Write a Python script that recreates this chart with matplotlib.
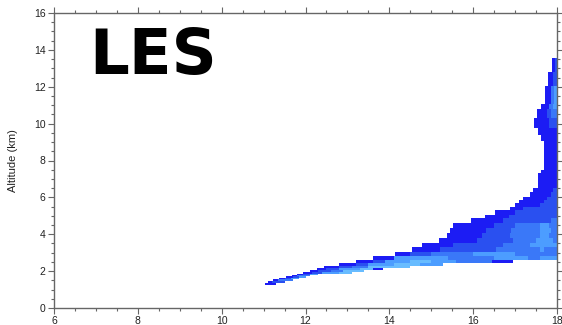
import numpy as np
import matplotlib
matplotlib.use("Agg")
import matplotlib.pyplot as plt

# frequency classes, darkest (edge) to lightest (core)
level_colors = ["#1c1cf4", "#2a50f0", "#3a78f8", "#4c9dff", "#68bcff"]

# altitude rows (km), bottom and top of each model level
row_bottom = [1.25, 1.36, 1.46, 1.57, 1.63, 1.74, 1.79, 1.84, 1.95, 2.06, 2.17, 2.28,
              2.44, 2.60, 2.82, 3.04, 3.31, 3.52, 3.80, 4.07, 4.34, 4.61, 4.88, 5.04,
              5.31, 5.48, 5.69, 5.86, 6.02, 6.29, 6.51, 7.32, 7.48, 9.06, 9.38, 9.76,
              10.30, 10.79, 11.06, 12.04, 12.80]
row_top = [1.36, 1.46, 1.57, 1.63, 1.74, 1.79, 1.84, 1.95, 2.06, 2.17, 2.28, 2.44,
           2.60, 2.82, 3.04, 3.31, 3.52, 3.80, 4.07, 4.34, 4.61, 4.88, 5.04, 5.31,
           5.48, 5.69, 5.86, 6.02, 6.29, 6.51, 7.32, 7.48, 9.06, 9.38, 9.76, 10.30,
           10.79, 11.06, 12.04, 12.80, 13.56]

# class boundaries along x for each row, and the class between each pair
row_edges = [
    [11.03, 11.30],
    [11.10, 11.20, 11.50],
    [11.22, 11.35, 11.70],
    [11.37, 11.50, 11.65, 11.85],
    [11.53, 11.70, 11.85, 12.00],
    [11.68, 11.80, 12.10],
    [11.80, 11.94, 12.10, 12.30],
    [11.94, 12.15, 12.40, 12.80, 13.10],
    [12.10, 12.30, 12.60, 12.90, 13.40],
    [12.27, 12.50, 12.80, 13.30, 13.60, 13.85],
    [12.44, 12.80, 13.10, 13.50, 14.50],
    [12.80, 13.20, 13.50, 14.10, 14.73, 15.28],
    [13.20, 13.60, 13.90, 14.50, 15.00, 15.60, 16.45, 16.96],
    [13.61, 14.10, 15.40, 16.50, 17.30, 17.60, 18.00],
    [14.13, 14.50, 15.00, 16.00, 17.00, 18.00],
    [14.54, 15.20, 16.55, 17.60, 17.70, 18.00],
    [14.78, 15.52, 16.70, 17.35, 18.00],
    [15.18, 16.10, 16.95, 17.50, 17.90, 18.00],
    [15.38, 16.20, 16.88, 17.60, 17.80, 18.00],
    [15.45, 16.30, 16.90, 17.60, 17.85, 18.00],
    [15.52, 16.50, 17.00, 17.60, 17.80, 18.00],
    [15.95, 16.70, 17.85, 18.00],
    [16.28, 16.85, 18.00],
    [16.52, 17.00, 18.00],
    [16.88, 17.20, 18.00],
    [17.00, 17.60, 18.00],
    [17.09, 17.70, 18.00],
    [17.19, 17.75, 18.00],
    [17.36, 17.85, 18.00],
    [17.43, 17.90, 18.00],
    [17.55, 18.00],
    [17.62, 18.00],
    [17.69, 18.00],
    [17.62, 18.00],
    [17.55, 18.00],
    [17.46, 17.80, 18.00],
    [17.53, 17.75, 17.85, 18.00],
    [17.62, 17.80, 17.90, 18.00],
    [17.72, 17.85, 17.92, 18.00],
    [17.79, 17.90, 18.00],
    [17.88, 17.96, 18.00],
]
row_levels = [
    [0],
    [0, 1],
    [0, 2],
    [0, 1, 3],
    [0, 1, 3],
    [0, 2],
    [0, 1, 3],
    [0, 1, 3, 4],
    [0, 1, 2, 4],
    [0, 1, 3, 4, 0],
    [0, 1, 2, 4],
    [0, 1, 3, 4, 3],
    [0, 1, 3, 4, 3, 2, 0],
    [0, 3, 2, 3, 2, 3],
    [0, 1, 2, 3, 2],
    [0, 1, 2, 3, 2],
    [0, 1, 2, 3],
    [0, 1, 2, 3, 2],
    [0, 1, 2, 3, 2],
    [0, 1, 2, 3, 2],
    [0, 1, 2, 3, 2],
    [0, 1, 2],
    [0, 1],
    [0, 1],
    [0, 1],
    [0, 1],
    [0, 1],
    [0, 1],
    [0, 1],
    [0, 1],
    [0],
    [0],
    [0],
    [0],
    [0],
    [0, 1],
    [0, 1, 2],
    [0, 2, 3],
    [0, 2, 3],
    [0, 1],
    [0, 1],
]

plt.rcParams["font.family"] = ["Liberation Sans", "DejaVu Sans"]

fig = plt.figure(figsize=(5.62, 3.25), dpi=100)
ax = fig.add_axes([54 / 562, 17 / 325, 503 / 562, 295 / 325])

for bot, top, edges, levels in zip(row_bottom, row_top, row_edges, row_levels):
    edges = np.asarray(edges)
    ax.barh(np.full(len(levels), bot), np.diff(edges), left=edges[:-1],
            height=top - bot, align="edge",
            color=[level_colors[l] for l in levels],
            linewidth=0, antialiased=False)

ax.set_xlim(6, 18)
ax.set_ylim(0, 16)
ax.set_xticks(np.arange(6, 19, 2))
ax.set_yticks(np.arange(0, 17, 2))
ax.set_xticks(np.arange(6, 18.01, 0.5), minor=True)
ax.set_yticks(np.arange(0, 16.01, 0.5), minor=True)
ax.tick_params(which="both", direction="out", top=True, right=True,
               color="#666666", width=0.8, labelsize=7.5, labelcolor="#222222")
ax.tick_params(which="major", length=4, pad=2)
ax.tick_params(which="minor", length=2)
for s in ax.spines.values():
    s.set_color("#666666")
    s.set_linewidth(1.0)

ax.set_ylabel("Altitude (km)", fontsize=8, color="#222222")
ax.yaxis.set_label_coords(-0.072, 0.5)

ax.text(0.197, 0.852, "LES", transform=ax.transAxes, ha="center", va="center",
        fontsize=45, fontweight="bold", family="DejaVu Sans", color="black")

fig.savefig("out.png", dpi=100, facecolor="white")
